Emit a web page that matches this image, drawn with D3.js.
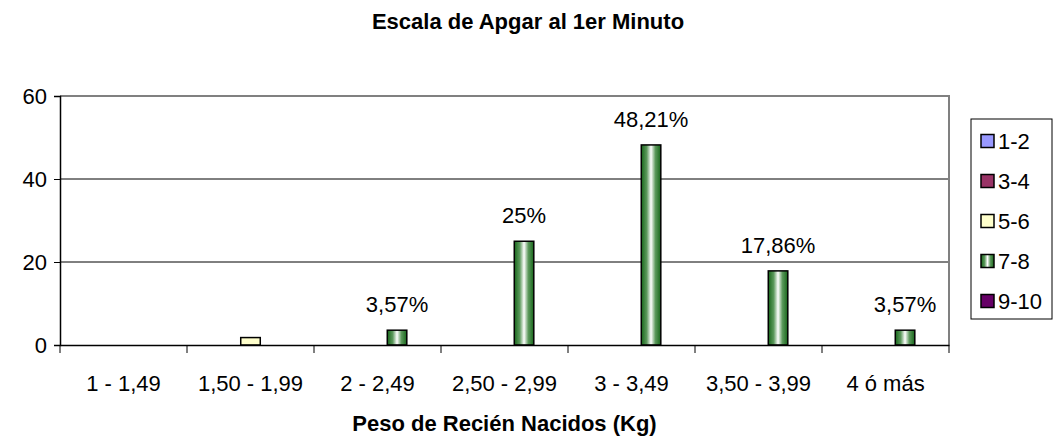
<!DOCTYPE html>
<html>
<head>
<meta charset="utf-8">
<script src="https://cdnjs.cloudflare.com/ajax/libs/d3/7.8.5/d3.min.js"></script>
<style>
body { margin: 0; background: #fff; }
text { font-family: "Liberation Sans", Arial, sans-serif; fill: #000; }
</style>
</head>
<body>
<div id="chart"></div>
<script>
var categories = ['1 - 1,49', '1,50 - 1,99', '2 - 2,49', '2,50 - 2,99', '3 - 3,49', '3,50 - 3,99', '4 ó más'];
var seriesNames = ['1-2', '3-4', '5-6', '7-8', '9-10'];
var seriesColors = ['#9999ff', '#993366', '#ffffcc', 'url(#greenGrad)', '#660066'];
var legendColors = ['#9999ff', '#993366', '#ffffcc', 'url(#greenGradL)', '#660066'];

// porcentaje por categoria, una lista por serie
var s12 = [0, 0, 0, 0, 0, 0, 0];
var s34 = [0, 0, 0, 0, 0, 0, 0];
var s56 = [0, 1.79, 0, 0, 0, 0, 0];
var s78 = [0, 0, 3.57, 25, 48.21, 17.86, 3.57];
var s910 = [0, 0, 0, 0, 0, 0, 0];
var labels78 = ['', '', '3,57%', '25%', '48,21%', '17,86%', '3,57%'];
var yTicks = [0, 20, 40, 60];

window.onload = function(){
	var svg = d3.select('#chart').append('svg').attr('width', 1055).attr('height', 443);

	var defs = svg.append('defs');
	makeGrad(defs, 'greenGrad');
	makeGrad(defs, 'greenGradL');

	draw(svg);
}

function makeGrad(defs, id){
	var g = defs.append('linearGradient').attr('id', id)
		.attr('x1', '0%').attr('x2', '100%').attr('y1', '0%').attr('y2', '0%');
	var stops = [[0, '#17661a'], [0.28, '#5c995c'], [0.5, '#ffffff'], [0.72, '#5c995c'], [1, '#17661a']];
	stops.forEach(function(s){
		g.append('stop').attr('offset', s[0]).attr('stop-color', s[1]);
	});
}

function draw(svg){
	var left = 60, right = 949, top = 96, bottom = 345;
	var fs = '22px';
	var allSeries = [s12, s34, s56, s78, s910];

	var x = d3.scaleBand().domain(categories).range([left, right]);
	var xs = d3.scaleBand().domain(seriesNames).range([0, x.bandwidth()]).paddingOuter(0.75);
	var y = d3.scaleLinear().domain([0, 60]).range([bottom, top]);

	// lineas de division
	svg.append('g').selectAll('line').data([20, 40]).enter().append('line')
		.attr('x1', left).attr('x2', right)
		.attr('y1', function(d){ return y(d); }).attr('y2', function(d){ return y(d); })
		.attr('stroke', '#000').attr('stroke-width', 1);

	// borde gris del area
	svg.append('path')
		.attr('d', 'M' + left + ',' + y(60) + 'H' + right + 'V' + bottom)
		.attr('fill', 'none').attr('stroke', '#808080').attr('stroke-width', 2);

	// barras
	var rows = [];
	allSeries.forEach(function(vals, si){
		vals.forEach(function(v, ci){
			if (v > 0) rows.push({s: si, c: ci, v: v});
		});
	});

	svg.append('g').selectAll('rect').data(rows).enter().append('rect')
		.attr('x', function(d){ return x(categories[d.c]) + xs(seriesNames[d.s]); })
		.attr('width', xs.bandwidth())
		.attr('y', function(d){ return y(d.v); })
		.attr('height', function(d){ return y(0) - y(d.v); })
		.attr('fill', function(d){ return seriesColors[d.s]; })
		.attr('stroke', '#000').attr('stroke-width', 1.5);

	// etiquetas de datos serie 7-8
	svg.append('g').selectAll('text').data(s78).enter().append('text')
		.attr('x', function(d, i){ return x(categories[i]) + xs('7-8') + xs.bandwidth() / 2; })
		.attr('y', function(d){ return y(d) - 18; })
		.attr('text-anchor', 'middle')
		.style('font-size', fs)
		.text(function(d, i){ return labels78[i]; });

	// eje y
	var yAxis = svg.append('g').attr('transform', 'translate(' + left + ',0)')
		.call(d3.axisLeft(y).tickValues(yTicks).tickSize(6).tickPadding(7).tickFormat(d3.format('d')));
	yAxis.select('.domain').attr('stroke', '#000').attr('stroke-width', 1.5);
	yAxis.selectAll('.tick line').attr('stroke', '#000');
	yAxis.selectAll('text').style('font-size', fs);

	// eje x
	var xAxis = svg.append('g').attr('transform', 'translate(0,' + bottom + ')')
		.call(d3.axisBottom(x).tickSize(0).tickPadding(30));
	xAxis.select('.domain').attr('stroke', '#000').attr('stroke-width', 1.5);
	xAxis.selectAll('text').style('font-size', fs);

	var xTicks = d3.range(categories.length + 1).map(function(i){ return left + i * x.step(); });
	svg.append('g').selectAll('line').data(xTicks).enter().append('line')
		.attr('x1', function(d){ return d; }).attr('x2', function(d){ return d; })
		.attr('y1', bottom).attr('y2', bottom + 8)
		.attr('stroke', '#000').attr('stroke-width', 1);

	// titulos
	svg.append('text').attr('x', 528).attr('y', 29).attr('text-anchor', 'middle')
		.style('font-size', fs).style('font-weight', 'bold')
		.text('Escala de Apgar al 1er Minuto');
	svg.append('text').attr('x', (left + right) / 2).attr('y', 431).attr('text-anchor', 'middle')
		.style('font-size', fs).style('font-weight', 'bold')
		.text('Peso de Recién Nacidos (Kg)');

	// leyenda
	var lg = svg.append('g');
	lg.append('rect').attr('x', 971).attr('y', 119).attr('width', 81).attr('height', 200)
		.attr('fill', '#fff').attr('stroke', '#000').attr('stroke-width', 1);
	var items = lg.selectAll('g.item').data(seriesNames).enter().append('g')
		.attr('transform', function(d, i){ return 'translate(981,' + (141 + i * 40) + ')'; });
	items.append('rect').attr('x', 0).attr('y', -6.5).attr('width', 13).attr('height', 13)
		.attr('fill', function(d, i){ return legendColors[i]; })
		.attr('stroke', '#000').attr('stroke-width', 1.5);
	items.append('text').attr('x', 17).attr('y', 8)
		.style('font-size', fs)
		.text(function(d){ return d; });
}
</script>
</body>
</html>
